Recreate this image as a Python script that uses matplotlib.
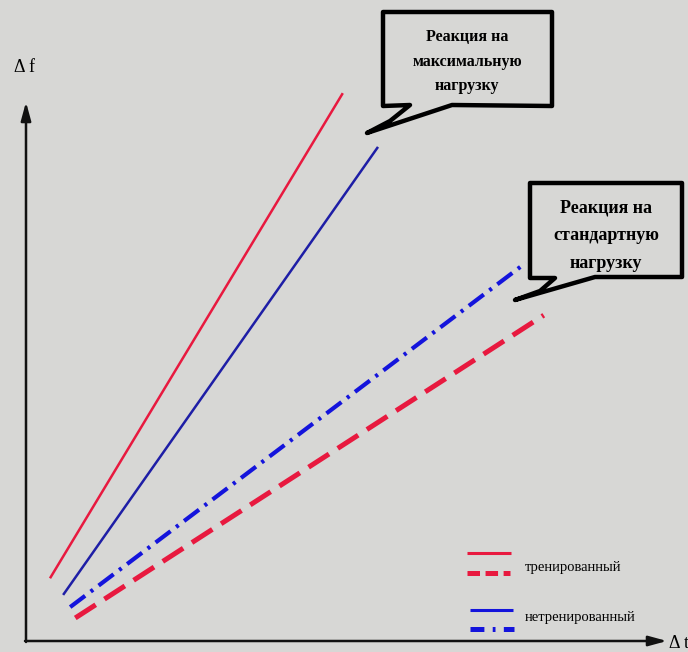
"""Response of heart rate (delta f) vs time (delta t) for trained / untrained subjects."""

import matplotlib
matplotlib.use("Agg")
import matplotlib.pyplot as plt
from matplotlib.lines import Line2D
from matplotlib.patches import Polygon, FancyArrowPatch

plt.rcParams["font.family"] = ["Liberation Serif", "DejaVu Serif"]
plt.rcParams["lines.scale_dashes"] = False

# --------------------------------------------------------------------------- #
# data: line end points in (delta t, delta f) units
# --------------------------------------------------------------------------- #
trained_max_t = [0.375, 4.95]
trained_max_f = [0.98, 8.56]
untrained_max_t = [0.58, 5.50]
untrained_max_f = [0.72, 7.72]
untrained_std_t = [0.69, 7.81]
untrained_std_f = [0.53, 5.91]
trained_std_t = [0.77, 8.09]
trained_std_f = [0.36, 5.09]

legend_labels = ["тренированный", "нетренированный"]
callout_max = ["Реакция на", "максимальную", "нагрузку"]
callout_std = ["Реакция на", "стандартную", "нагрузку"]

RED = "#e8193f"
BLUE_DARK = "#1e1ea6"
BLUE = "#1414dc"
BG = "#d7d7d5"

W, H = 688, 652
fig = plt.figure(figsize=(W / 100, H / 100), dpi=100, facecolor=BG)
ax = fig.add_axes([0, 0, 1, 1])
ax.set_facecolor(BG)
ax.set_xlim(-26 / 64, 662 / 64)
ax.set_ylim(-11 / 64, 641 / 64)
ax.axis("off")


def fp(x, y):
    """pixel (from top-left) -> figure fraction"""
    return x / W, 1 - y / H


# axes with arrows
for start, end in (((26, 642), (26, 102)), ((25, 641), (667, 641))):
    ax.add_patch(FancyArrowPatch(fp(*start), fp(*end), transform=fig.transFigure,
                                 arrowstyle="-|>,head_length=11,head_width=3",
                                 color="#111111", lw=1.8, shrinkA=0, shrinkB=0))
fig.text(*fp(14, 68), "Δ f", fontsize=13, va="center", ha="left")
fig.text(*fp(669, 643), "Δ t", fontsize=13, va="center", ha="left")

# the four response lines
ax.plot(trained_max_t, trained_max_f, color=RED, lw=1.8, solid_capstyle="butt")
ax.plot(untrained_max_t, untrained_max_f, color=BLUE_DARK, lw=1.8, solid_capstyle="butt")
ax.plot(untrained_std_t, untrained_std_f, color=BLUE, lw=3.0,
        dashes=(13.5, 5, 2.2, 5), dash_capstyle="butt")
ax.plot(trained_std_t, trained_std_f, color=RED, lw=3.6,
        dashes=(17.5, 7.5), dash_capstyle="butt")

# legend (two keys per label)
keys = [
    (553, 467, 511, RED, 2.2, None),
    (573, 467, 510, RED, 3.6, (9, 4)),
    (610, 470, 513, BLUE, 2.2, None),
    (629, 470, 514, BLUE, 3.6, (10, 6, 2, 6)),
]
for y, x0, x1, color, lw, dashes in keys:
    (fx0, fy), (fx1, _) = fp(x0, y), fp(x1, y)
    ln = Line2D([fx0, fx1], [fy, fy], transform=fig.transFigure, color=color,
                lw=lw, solid_capstyle="butt", dash_capstyle="butt")
    if dashes:
        ln.set_dashes(dashes)
    fig.add_artist(ln)
for label, y in zip(legend_labels, (568, 617)):
    fig.text(*fp(525, y), label, fontsize=10.5, va="center", ha="left")


# speech-bubble callouts
def bubble(pts, lines, cx, ys, size):
    poly = Polygon([fp(*p) for p in pts], closed=True, transform=fig.transFigure,
                   facecolor=BG, edgecolor="black", lw=3.2, joinstyle="round")
    fig.add_artist(poly)
    for txt, y in zip(lines, ys):
        fig.text(*fp(cx, y), txt, fontsize=size, ha="center", va="center",
                 fontweight="bold")


bubble([(383, 12), (552, 12), (552, 106), (452, 105), (367, 133),
        (390, 121), (410, 105), (383, 106)],
       callout_max, 467, (37, 62, 86), 11.5)
bubble([(530, 183), (682, 183), (682, 277), (595, 277), (515, 300),
        (540, 291), (555, 278), (530, 278)],
       callout_std, 606, (208, 236, 263), 13)

fig.savefig("out.png", dpi=100, facecolor=BG)
